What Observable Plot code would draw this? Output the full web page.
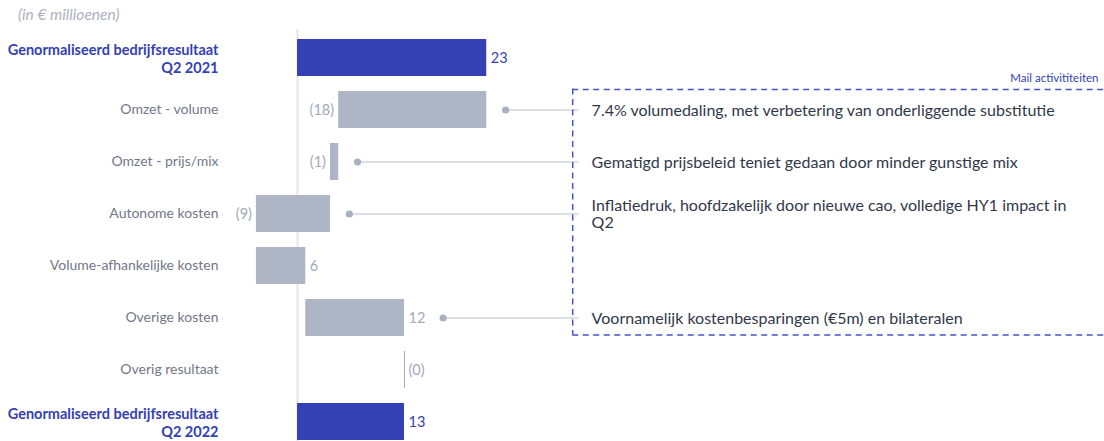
<!DOCTYPE html>
<html><head><meta charset="utf-8">
<script src="https://cdn.jsdelivr.net/npm/d3@7"></script>
<script src="https://cdn.jsdelivr.net/npm/@observablehq/plot@0.6"></script>
<style>
html,body{margin:0;padding:0;overflow:hidden;background:#fff;}
#wrap{position:relative;width:1104px;height:441px;overflow:hidden;font-family:Lato,sans-serif;}
#title{position:absolute;left:18px;top:5px;font-size:15.5px;font-style:italic;color:#aeb0bd;white-space:nowrap;}
#chart{position:absolute;left:0;top:0;}
</style></head><body>
<div id="wrap"><div id="chart"></div><div id="title">(in € millioenen)</div></div>
<script>
// ---- data ----
const categories = [
  "Genormaliseerd bedrijfsresultaat\nQ2 2021",
  "Omzet - volume",
  "Omzet - prijs/mix",
  "Autonome kosten",
  "Volume-afhankelijke kosten",
  "Overige kosten",
  "Overig resultaat",
  "Genormaliseerd bedrijfsresultaat\nQ2 2022"
];
const values = [23, -18, -1, -9, 6, 12, 0, 13];
const isTotal = [true, false, false, false, false, false, false, true];

const annotationCategories = ["Omzet - volume", "Omzet - prijs/mix", "Autonome kosten", "Overige kosten"];
const annotationTexts = [
  "7.4% volumedaling, met verbetering van onderliggende substitutie",
  "Gematigd prijsbeleid teniet gedaan door minder gunstige mix",
  "Inflatiedruk, hoofdzakelijk door nieuwe cao, volledige HY1 impact in\nQ2",
  "Voornamelijk kostenbesparingen (€5m) en bilateralen"
];
const boxLabel = "Mail activititeiten";
const boxFirst = "Omzet - volume";
const boxLast = "Overige kosten";

// ---- build waterfall table ----
let running = 0;
const rows = categories.map((c, i) => {
  let start, end;
  if (isTotal[i]) { start = 0; end = values[i]; running = values[i]; }
  else { start = running; end = running + values[i]; running = end; }
  const labelRight = values[i] >= 0;
  return {
    category: c, value: values[i], total: isTotal[i], start, end,
    lo: Math.min(start, end), hi: Math.max(start, end), labelRight,
    label: values[i] > 0 ? String(values[i]) : `(${Math.abs(values[i])})`
  };
});
const byCat = new Map(rows.map(r => [r.category, r]));

const xMin = -8.15, xMax = 98.1;
const boxX = 33.45;
const textX = 35.75;
const annotations = annotationCategories.map((c, i) => {
  const r = byCat.get(c);
  return { category: c, text: annotationTexts[i], dotX: r.hi + (r.labelRight ? 4.7 : 2.3) };
});

const BLUE = "#3441b4", GRAY = "#aeb5c5", LABELGRAY = "#a3a9b8", CATGRAY = "#737888", DARK = "#323849", DASH = "#4653c6";

const chart = Plot.plot({
  width: 1104,
  height: 457.5,
  marginTop: 20.5,
  marginBottom: 0,
  marginLeft: 230,
  marginRight: 0,
  style: { fontFamily: "Lato, sans-serif", background: "white", overflow: "visible" },
  x: { domain: [xMin, xMax], axis: null },
  y: { domain: categories, padding: 0.29, axis: null },
  marks: [
    Plot.ruleX([0], { stroke: "#e6e6e6", strokeWidth: 2, insetTop: 8.5 }),
    Plot.barX(rows.filter(d => d.value !== 0), {
      x1: "start", x2: "end", y: "category",
      fill: d => d.total ? BLUE : GRAY
    }),
    Plot.ruleX(rows.filter(d => d.value === 0), { x: "end", y1: "category", y2: "category", stroke: LABELGRAY, strokeWidth: 1 }),
    // value labels
    Plot.text(rows.filter(d => d.labelRight), {
      x: "hi", y: "category", text: "label", textAnchor: "start", dx: 4,
      fill: d => d.total ? BLUE : LABELGRAY, fontSize: 14.5
    }),
    Plot.text(rows.filter(d => !d.labelRight), {
      x: "lo", y: "category", text: "label", textAnchor: "end", dx: -4.5,
      fill: LABELGRAY, fontSize: 14.5
    }),
    // category labels
    Plot.text(rows.filter(d => !d.total), {
      y: "category", text: "category", frameAnchor: "left", textAnchor: "end", dx: -12,
      fill: CATGRAY, fontSize: 14
    }),
    Plot.text(rows.filter(d => d.total), {
      y: "category", text: "category", frameAnchor: "left", textAnchor: "end", dx: -12,
      fill: BLUE, fontWeight: "bold", fontSize: 14.5, lineHeight: 1.3, lineAnchor: "middle"
    }),
    // connectors
    Plot.ruleY(annotations, { y: "category", x1: "dotX", x2: boxX + 0.75, stroke: "#b9bfcb", strokeWidth: 1.2 }),
    Plot.dot(annotations, { y: "category", x: "dotX", r: 3.6, fill: "#a9b0bf" }),
    // dashed box
    Plot.ruleY([boxFirst], { y: d => d, x1: boxX, x2: xMax, dy: -20.5, stroke: DASH, strokeWidth: 1.5, strokeDasharray: "6,4.5" }),
    Plot.ruleY([boxLast], { y: d => d, x1: boxX, x2: xMax, dy: 17, stroke: DASH, strokeWidth: 1.5, strokeDasharray: "6,4.5" }),
    Plot.ruleX([{ x: boxX, y1: boxFirst, y2: boxLast }], { x: "x", y1: "y1", y2: "y2", insetTop: -2.5, insetBottom: 1.5, stroke: DASH, strokeWidth: 1.5, strokeDasharray: "6,4.5" }),
    Plot.text([boxLabel], { x: xMax, y: [boxFirst], text: d => d, dx: -6, dy: -32, textAnchor: "end", fill: BLUE, fontSize: 11.5 }),
    // annotation texts
    Plot.text(annotations, {
      x: textX, y: "category", text: "text", textAnchor: "start", fill: DARK,
      fontSize: 16, lineHeight: 1.1, lineAnchor: "middle"
    })
  ]
});
document.getElementById("chart").appendChild(chart);
</script>
</body></html>
